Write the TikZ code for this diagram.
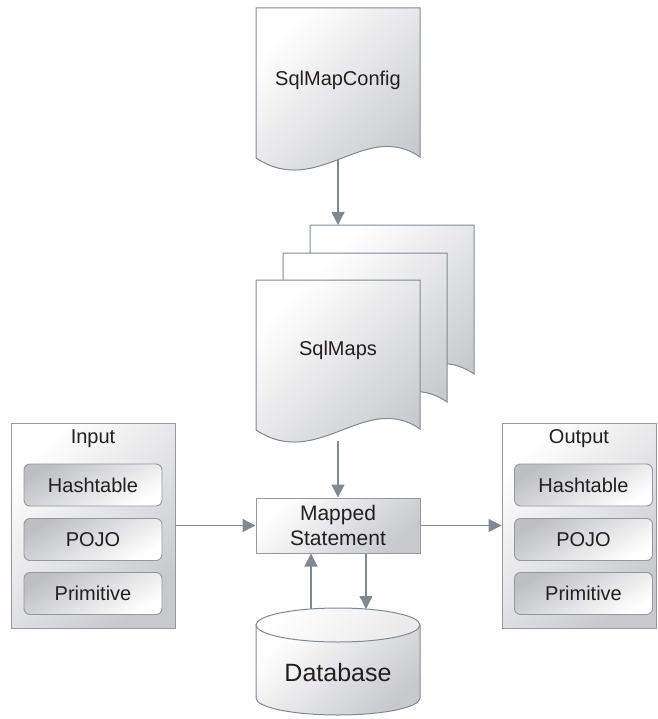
\documentclass[tikz,border=0pt]{standalone}
\usepackage{fontspec}
\setmainfont{Liberation Sans}
\usetikzlibrary{arrows.meta}
\definecolor{lg}{RGB}{128,137,146}
\definecolor{bx}{RGB}{150,152,155}
\definecolor{tx}{RGB}{35,31,32}
\definecolor{shd}{RGB}{200,201,204}
\definecolor{shdin}{RGB}{190,191,194}
\newcommand{\mydocpage}[2]{%
  \path[docpage,shift={(#1,#2)}] (0,0) -- (164,0) -- (164,149)
    .. controls (109,111) and (62,191) .. (0,150) -- cycle;}
\begin{document}
\begin{tikzpicture}[x=1pt,y=-1pt,
  every node/.style={text=tx,font=\fontsize{20}{25}\selectfont},
  conn/.style={draw=lg,line width=1.3pt,-{Triangle[width=13pt,length=13pt]}},
  shadefill/.style={top color=white,bottom color=shd,shading angle=45},
  docpage/.style={draw=lg,line width=1pt,shadefill},
  boxnode/.style={draw=bx,line width=1pt,shadefill,minimum width=164pt,inner sep=0pt},
  itembox/.style={draw=bx,line width=0.9pt,rounded corners=6pt,top color=shdin,bottom color=white,shading angle=30,minimum width=138pt,minimum height=42pt,inner sep=0pt},
  label/.style={fill=none,draw=none,inner sep=0pt}]
\useasboundingbox (0,0) rectangle (657,719);

% SqlMapConfig document
\mydocpage{256}{8}
\node[label] (cfg) at (338,80) {SqlMapConfig};
\coordinate (cfgbot) at (338,159);

% SqlMaps stack
\mydocpage{310}{225}
\mydocpage{283}{253}
\mydocpage{256}{280}
\node[label] (maps) at (338,350) {SqlMaps};
\coordinate (mapstop) at (338,225);
\coordinate (mapsbot) at (338,441);

% Mapped Statement
\node[boxnode,minimum height=55pt,align=center,font=\fontsize{21}{25}\selectfont] (ms) at (338,525.5) {Mapped\\Statement};

% Input
\node[boxnode,minimum height=205pt] (in) at (93,525.5) {};
\node[label] (inlbl) at (93,439) {Input};
\node[itembox] (inh) at (93,485) {Hashtable};
\node[itembox] (inp) at (93,539.5) {POJO};
\node[itembox] (inr) at (93,593.5) {Primitive};

% Output
\node[boxnode,minimum height=205pt,minimum width=154pt] (out) at (579,525.5) {};
\node[label] (outlbl) at (579,439) {Output};
\node[itembox] (outh) at (583.5,485) {Hashtable};
\node[itembox] (outp) at (583.5,539.5) {POJO};
\node[itembox] (outr) at (583.5,593.5) {Primitive};

% Database
\path[draw=lg,line width=1pt,shadefill] (256,625) -- (256,698)
  arc[start angle=180,end angle=0,x radius=82,y radius=17] -- (420,625) -- cycle;
\path[draw=lg,line width=1pt,top color=white,bottom color=white!92!black,shading angle=45]
  (338,625) ellipse [x radius=82,y radius=17];
\node[label,font=\fontsize{25}{30}\selectfont] (db) at (338,673) {Database};
\coordinate (dbL) at (311,609);
\coordinate (dbR) at (366,609);

% connectors
\draw[conn] (cfgbot) -- (mapstop);
\draw[conn] (mapsbot) -- (ms.north);
\draw[conn] (in.east) -- (ms.west);
\draw[conn] (ms.east) -- (out.west);
\draw[conn] (ms.south -| dbR) -- (dbR);
\draw[conn] (dbL) -- (ms.south -| dbL);
\end{tikzpicture}
\end{document}
